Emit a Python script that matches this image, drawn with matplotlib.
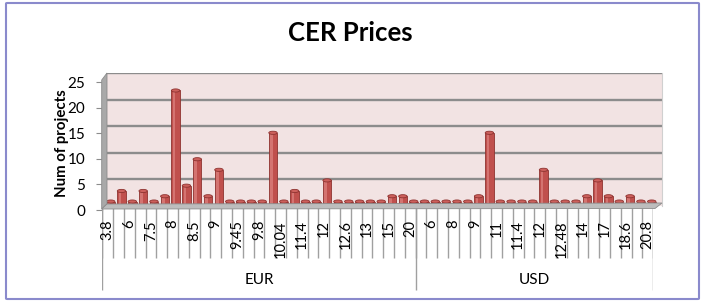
import numpy as np
import matplotlib
matplotlib.use("Agg")
import matplotlib.pyplot as plt
from matplotlib.patches import Ellipse, Polygon, FancyBboxPatch

plt.rcParams['font.family'] = ['Lato', 'DejaVu Sans']

# CER price categories (only every other label is printed, as in the original)
eur_prices = ['3.8', '5', '6', '7', '7.5', '7.8', '8', '8.2', '8.5', '8.8', '9', '9.2',
              '9.45', '9.5', '9.8', '10', '10.04', '10.5', '11.4', '11.5', '12', '12.5',
              '12.6', '12.8', '13', '14', '15', '16', '20']
usd_prices = ['5', '6', '7', '8', '8.5', '9', '10', '11', '11.2', '11.4', '11.5', '12',
              '12.4', '12.48', '13', '14', '15', '17', '18', '18.6', '20', '20.8']
eur_counts = [1, 3, 1, 3, 1, 2, 22, 4, 9, 2, 7, 1, 1, 1, 1, 14, 1, 3, 1, 1, 5, 1, 1, 1, 1, 1, 2, 2, 1]
usd_counts = [1, 1, 1, 1, 1, 2, 14, 1, 1, 1, 1, 7, 1, 1, 1, 2, 5, 2, 1, 2, 1, 1]
groups = ['EUR', 'USD']
yticks = [0, 5, 10, 15, 20, 25]

labels = eur_prices + usd_prices
counts = np.array(eur_counts + usd_counts)
n = len(counts)
x = np.arange(n) + 0.5

W, H = 705, 304
fig = plt.figure(figsize=(W / 100, H / 100), dpi=100)


def fx(px):
    return px / W


def fy(py):
    return 1 - py / H


def rect(l, t, r, b):
    return [fx(l), fy(b), fx(r) - fx(l), fy(t) - fy(b)]


# outer border
fig.patches.append(FancyBboxPatch((fx(6), fy(299)), fx(699) - fx(6), fy(3) - fy(299),
                                  boxstyle="round,pad=0,rounding_size=0.002",
                                  transform=fig.transFigure, fill=False,
                                  edgecolor='#8A8ACC', lw=1.5))

# side wall and floor
fig.patches.append(Polygon([(fx(101.7), fy(209)), (fx(101.7), fy(80)), (fx(107), fy(73)), (fx(107), fy(204))],
                           closed=True, transform=fig.transFigure, facecolor='#A9A9A9',
                           edgecolor='#8C8C8C', lw=0.6))
fig.patches.append(Polygon([(fx(101.7), fy(209)), (fx(655), fy(208.5)), (fx(662), fy(203)), (fx(107), fy(204))],
                           closed=True, transform=fig.transFigure, facecolor='#BDBDBD',
                           edgecolor='#8C8C8C', lw=0.6))

# back wall + bars
ax = fig.add_axes(rect(106, 73.3, 662, 205.5))
ax.set_facecolor('#F2E3E3')
ax.set_xlim(0.066, 51.45)
ax.set_ylim(0, 25)
for s in ax.spines.values():
    s.set_visible(False)
ax.spines['right'].set_visible(True)
ax.spines['right'].set_color('#D0D0D0')
ax.set_xticks([])
ax.set_yticks([])
for v in yticks[1:]:
    ax.axhline(v, color='#8C8C8C', lw=1.7, zorder=1)

bw = 0.78
tops = counts - 0.25
ax.bar(x, tops, width=bw, color='#C0504D', edgecolor='#8E3330', lw=0.6, zorder=3)
ax.bar(x - 0.14, tops, width=0.24, color='#D47471', lw=0, zorder=3.5)
for xi, v in zip(x, tops):
    ax.add_patch(Ellipse((xi, v), bw, 0.6, facecolor='#CC605C', edgecolor='#8E3330', lw=0.6, zorder=4))

# y axis (front edge)
axy = fig.add_axes(rect(101.7, 82, 102.2, 210))
axy.set_ylim(0, 25)
axy.set_yticks(yticks)
axy.set_xticks([])
axy.patch.set_visible(False)
for s in ['top', 'right', 'bottom']:
    axy.spines[s].set_visible(False)
axy.spines['left'].set_color('#8C8C8C')
axy.tick_params(axis='y', length=4, color='#8C8C8C', labelsize=11, pad=8)
fig.text(fx(62), fy(143), 'Num of projects', rotation=90, ha='center', va='center',
         fontsize=10.8, fontweight='bold')

# category axis (front)
axc = fig.add_axes(rect(102.3, 208, 653.1, 292))
axc.set_xlim(0, n)
axc.set_ylim(84, 0)
axc.axis('off')
axc.vlines(np.arange(n + 1), 0, 50, color='#A0A0A0', lw=1)
bounds = [0, len(eur_prices), n]
axc.vlines(bounds, 0, 82, color='#A0A0A0', lw=1)
for i in range(0, n, 2):
    axc.text(x[i], 12, labels[i], rotation=90, ha='center', va='top', fontsize=10.5)
for g, a, b in zip(groups, bounds[:-1], bounds[1:]):
    axc.text((a + b) / 2, 72, g, ha='center', va='center', fontsize=11)

fig.text(fx(350), fy(33), 'CER Prices', ha='center', va='center', fontsize=18.5, fontweight='bold')

fig.savefig('out.png', dpi=100)
